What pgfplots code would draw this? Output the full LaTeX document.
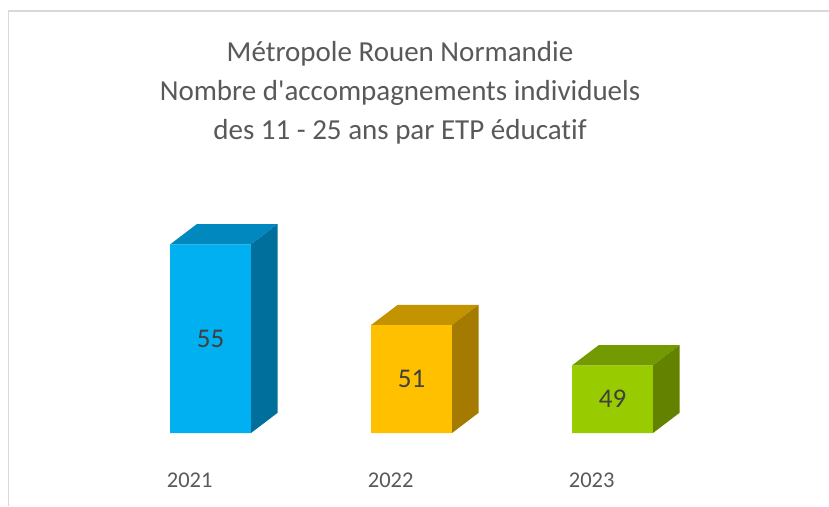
\documentclass[border=0pt]{standalone}
\usepackage{fontspec}
\setmainfont{Carlito}[Ligatures={NoCommon}]
\usepackage{pgfplots}
\pgfplotsset{compat=1.18}
\definecolor{frame}{HTML}{D9D9D9}
\definecolor{titlec}{HTML}{595959}
\definecolor{labc}{HTML}{404040}
\definecolor{bAf}{HTML}{00B0F0}
\definecolor{bAt}{HTML}{0088BF}
\definecolor{bAs}{HTML}{006F9B}
\definecolor{bBf}{HTML}{FFC000}
\definecolor{bBt}{HTML}{C49300}
\definecolor{bBs}{HTML}{A47B00}
\definecolor{bCf}{HTML}{99CC00}
\definecolor{bCt}{HTML}{739A00}
\definecolor{bCs}{HTML}{628200}
\begin{document}
\begin{tikzpicture}[x=1pt,y=1pt]
\useasboundingbox (0,0) rectangle (829,506);
\fill[white] (0,0) rectangle (829,506);
\draw[color=frame, line width=1.8pt] (8.5,0) -- (8.5,495) -- (829,495);
\node[anchor=base, text=titlec, font=\fontsize{29}{35}\selectfont, inner sep=0pt] at (400,444.3) {Métropole Rouen Normandie};
\node[anchor=base, text=titlec, font=\fontsize{29}{35}\selectfont, inner sep=0pt] at (400,405) {Nombre d\textquotesingle accompagnements individuels};
\node[anchor=base, text=titlec, font=\fontsize{29}{35}\selectfont, inner sep=0pt] at (400,366) {des 11 - 25 ans par ETP éducatif};
\begin{axis}[
  at={(89.2pt,73pt)}, anchor=south west,
  scale only axis, width=703.5pt, height=241.9pt,
  xmin=-0.5, xmax=3, ymin=45.64, ymax=57.64,
  axis line style={draw=none},
  major tick length=0pt,
  ytick=\empty,
  xtick={0,1,2},
  xticklabels={2021,2022,2023},
  xticklabel style={anchor=north, inner sep=0pt, yshift=-40pt, text=titlec, font=\fontsize{22.5}{27}\selectfont},
  clip=false,
]
% 2021 : 55
\addplot[draw=none, fill=bAf] coordinates {(-0.097,45.64) (0.305,45.64) (0.305,55) (-0.097,55) (-0.097,45.64)};
\addplot[draw=none, fill=bAt] coordinates {(-0.097,55) (0.305,55) (0.437,56) (0.035,56) (-0.097,55)};
\addplot[draw=none, fill=bAs] coordinates {(0.305,45.64) (0.437,46.64) (0.437,56) (0.305,55) (0.305,45.64)};
% 2022 : 51
\addplot[draw=none, fill=bBf] coordinates {(0.903,45.64) (1.305,45.64) (1.305,51) (0.903,51) (0.903,45.64)};
\addplot[draw=none, fill=bBt] coordinates {(0.903,51) (1.305,51) (1.437,52) (1.035,52) (0.903,51)};
\addplot[draw=none, fill=bBs] coordinates {(1.305,45.64) (1.437,46.64) (1.437,52) (1.305,51) (1.305,45.64)};
% 2023 : 49
\addplot[draw=none, fill=bCf] coordinates {(1.903,45.64) (2.305,45.64) (2.305,49) (1.903,49) (1.903,45.64)};
\addplot[draw=none, fill=bCt] coordinates {(1.903,49) (2.305,49) (2.437,50) (2.035,50) (1.903,49)};
\addplot[draw=none, fill=bCs] coordinates {(2.305,45.64) (2.437,46.64) (2.437,50) (2.305,49) (2.305,45.64)};
% data labels
\addplot[draw=none, mark=none, nodes near coords, point meta=explicit symbolic,
  nodes near coords style={anchor=center, inner sep=0pt, text=labc, font=\fontsize{27}{32}\selectfont}]
  coordinates {(0.104,50.32)[55] (1.104,48.32)[51] (2.104,47.32)[49]};
\end{axis}
\end{tikzpicture}
\end{document}
